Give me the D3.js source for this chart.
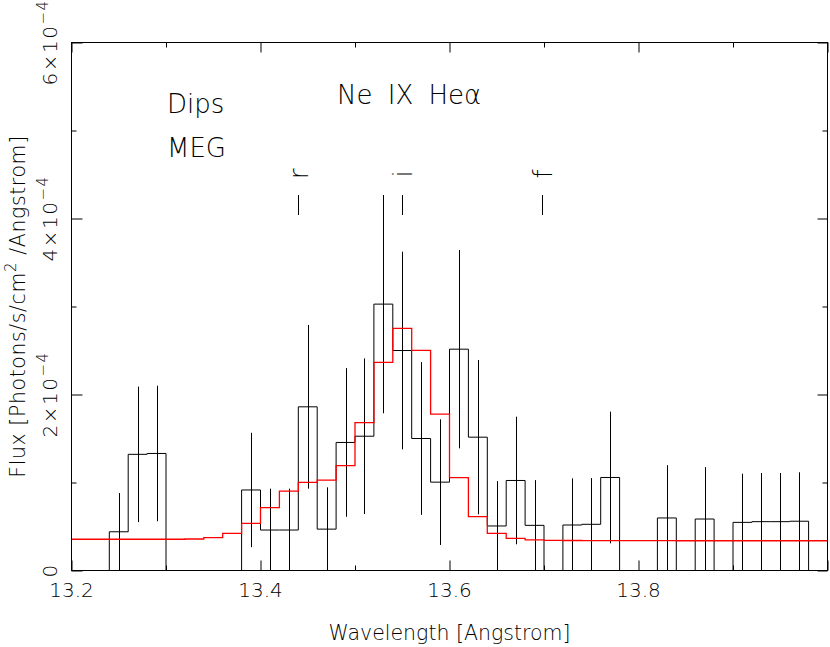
<!DOCTYPE html>
<html>
<head>
<meta charset="utf-8">
<script src="https://cdn.jsdelivr.net/npm/d3@7"></script>
<style>
  html, body { margin: 0; padding: 0; background: #fff; }
  svg { display: block; }
  text { font-family: "DejaVu Sans", sans-serif; font-weight: 200; fill: #000; }
</style>
</head>
<body>
<svg id="chart" width="830" height="647"></svg>
<script>
// ---- data (flux in units of 1e-4 photons/s/cm^2/Angstrom) ----
const binCenters = [13.21,13.23,13.25,13.27,13.29,13.31,13.33,13.35,13.37,13.39,
                    13.41,13.43,13.45,13.47,13.49,13.51,13.53,13.55,13.57,13.59,
                    13.61,13.63,13.65,13.67,13.69,13.71,13.73,13.75,13.77,13.79,
                    13.81,13.83,13.85,13.87,13.89,13.91,13.93,13.95,13.97,13.99];
const binWidth = 0.02;
const fluxData = [0,0,0.44,1.32,1.33,0,0,0,0,0.915,
                  0.46,0.46,1.86,0.47,1.455,1.526,3.027,2.50,1.50,1.004,
                  2.515,1.515,0.506,1.023,0.513,0,0.517,0.525,1.057,0,
                  0,0.597,0,0.585,0,0.547,0.555,0.555,0.56,0];
const fluxErr = [0,0,0.44,0.77,0.77,0,0,0,0,0.65,
                 0.47,0.47,0.93,0.475,0.845,0.884,1.24,1.123,0.868,0.714,
                 1.127,0.877,0.51,0.725,0.514,0,0.53,0.525,0.748,0,
                 0,0.6,0,0.59,0,0.553,0.553,0.553,0.556,0];
const fluxModel = [0.355,0.355,0.355,0.355,0.355,0.355,0.358,0.373,0.423,0.536,
                   0.714,0.903,1.002,1.028,1.191,1.68,2.366,2.752,2.502,1.778,
                   1.055,0.612,0.423,0.366,0.347,0.342,0.341,0.340,0.340,0.339,
                   0.339,0.339,0.338,0.338,0.338,0.338,0.338,0.338,0.338,0.338];
const fluxUnit = 1e-4;
const xMajorTicks = [13.2, 13.4, 13.6, 13.8, 14.0];
const xMinorTicks = [13.3, 13.5, 13.7, 13.9];
const xTickLabels = ["13.2", "13.4", "13.6", "13.8"];
const yMajorTicks = [0, 2e-4, 4e-4, 6e-4];
const yMinorTicks = [1e-4, 3e-4, 5e-4];
const yTickMantissa = ["0", "2", "4", "6"];
const lineWavelengths = [13.440, 13.550, 13.698];
const lineNames = ["r", "i", "f"];

// ---- layout ----
const svg = d3.select("#chart");
const x = d3.scaleLinear().domain([13.2, 14.0]).range([71.5, 827.5]);
const y = d3.scaleLinear().domain([0, 6e-4]).range([570.5, 42.5]);
const X0 = x.range()[0], X1 = x.range()[1], Y0 = y.range()[0], Y1 = y.range()[1];

svg.append("defs").append("clipPath").attr("id", "clip")
  .append("rect").attr("x", X0).attr("y", Y1).attr("width", X1 - X0).attr("height", Y0 - Y1);

const plot = svg.append("g").attr("clip-path", "url(#clip)");

// step points
const stepPts = vals => {
  const pts = binCenters.map((c, i) => [c - binWidth / 2, vals[i] * fluxUnit]);
  pts.push([binCenters[binCenters.length - 1] + binWidth / 2, vals[vals.length - 1] * fluxUnit]);
  return pts;
};
const stepLine = d3.line().x(d => x(d[0])).y(d => y(d[1])).curve(d3.curveStepAfter);

// data histogram
plot.append("path").attr("d", stepLine(stepPts(fluxData)))
  .attr("fill", "none").attr("stroke", "#000").attr("stroke-width", 1);

// error bars
plot.selectAll("line.err").data(binCenters.map((c, i) => ({c, v: fluxData[i], e: fluxErr[i]})).filter(d => d.e > 0))
  .enter().append("line").attr("class", "err")
  .attr("x1", d => Math.round(x(d.c)) + 0.5).attr("x2", d => Math.round(x(d.c)) + 0.5)
  .attr("y1", d => y(Math.max(0, (d.v - d.e)) * fluxUnit))
  .attr("y2", d => y((d.v + d.e) * fluxUnit))
  .attr("stroke", "#000").attr("stroke-width", 1);

// model
plot.append("path").attr("d", stepLine(stepPts(fluxModel)))
  .attr("fill", "none").attr("stroke", "#ff0000").attr("stroke-width", 1.3);

// ---- axes (ticks inward on all four sides) ----
const noLab = () => "";
function addAxis(gen, tx, ty) {
  const g = svg.append("g").attr("transform", `translate(${tx},${ty})`).call(gen);
  g.select(".domain").remove();
  g.selectAll("text").remove();
  g.selectAll("line").attr("stroke", "#000").attr("stroke-width", 1);
  return g;
}
addAxis(d3.axisBottom(x).tickValues(xMajorTicks).tickSize(-10).tickFormat(noLab), 0, Y0);
addAxis(d3.axisBottom(x).tickValues(xMinorTicks).tickSize(-5).tickFormat(noLab), 0, Y0);
addAxis(d3.axisTop(x).tickValues(xMajorTicks).tickSize(-10).tickFormat(noLab), 0, Y1);
addAxis(d3.axisTop(x).tickValues(xMinorTicks).tickSize(-5).tickFormat(noLab), 0, Y1);
addAxis(d3.axisLeft(y).tickValues(yMajorTicks).tickSize(-11).tickFormat(noLab), X0, 0);
addAxis(d3.axisLeft(y).tickValues(yMinorTicks).tickSize(-5).tickFormat(noLab), X0, 0);
addAxis(d3.axisRight(y).tickValues(yMajorTicks).tickSize(-10).tickFormat(noLab), X1, 0);
addAxis(d3.axisRight(y).tickValues(yMinorTicks).tickSize(-5).tickFormat(noLab), X1, 0);

// frame
svg.append("rect").attr("x", X0).attr("y", Y1).attr("width", X1 - X0).attr("height", Y0 - Y1)
  .attr("fill", "none").attr("stroke", "#000").attr("stroke-width", 1);

// x tick labels
svg.selectAll("text.xt").data(xTickLabels).enter().append("text").attr("class", "xt")
  .attr("x", d => x(+d)).attr("y", 597).attr("text-anchor", "middle")
  .attr("font-size", 20).text(d => d);

// y tick labels (rotated)
yMajorTicks.forEach((v, i) => {
  const t = svg.append("text")
    .attr("transform", `translate(57,${y(v)}) rotate(-90)`)
    .attr("text-anchor", "middle").attr("font-size", 20).attr("letter-spacing", 1.5);
  if (v === 0) { t.text(yTickMantissa[i]); return; }
  t.append("tspan").text(yTickMantissa[i] + "\u00d710");
  t.append("tspan").attr("dy", -9).attr("font-size", 15).text("\u22124");
});

// axis titles
svg.append("text").attr("x", (X0 + X1) / 2).attr("y", 640).attr("text-anchor", "middle")
  .attr("font-size", 20.5).text("Wavelength [Angstrom]");
const yt = svg.append("text")
  .attr("transform", `translate(25,${(Y0 + Y1) / 2}) rotate(-90)`)
  .attr("text-anchor", "middle").attr("font-size", 20.5).attr("letter-spacing", 0.6);
yt.append("tspan").text("Flux [Photons/s/cm");
yt.append("tspan").attr("dy", -9).attr("font-size", 15).text("2");
yt.append("tspan").attr("dy", 9).text(" /Angstrom]");

// annotations
svg.append("text").attr("x", 167).attr("y", 113).attr("font-size", 26).text("Dips");
svg.append("text").attr("x", 167).attr("y", 157).attr("font-size", 26).text("MEG");
svg.append("text").attr("x", 337).attr("y", 104).attr("font-size", 26)
  .attr("word-spacing", 7).text("Ne IX He\u03b1");

// line identifications
lineWavelengths.forEach((w, i) => {
  const px = Math.round(x(w)) + 0.5;
  svg.append("line").attr("x1", px).attr("x2", px).attr("y1", 195).attr("y2", 215)
    .attr("stroke", "#000").attr("stroke-width", 1);
  svg.append("text").attr("transform", `translate(${px + 9},174) rotate(-90)`)
    .attr("text-anchor", "middle").attr("font-size", 26).text(lineNames[i]);
});
</script>
</body>
</html>
